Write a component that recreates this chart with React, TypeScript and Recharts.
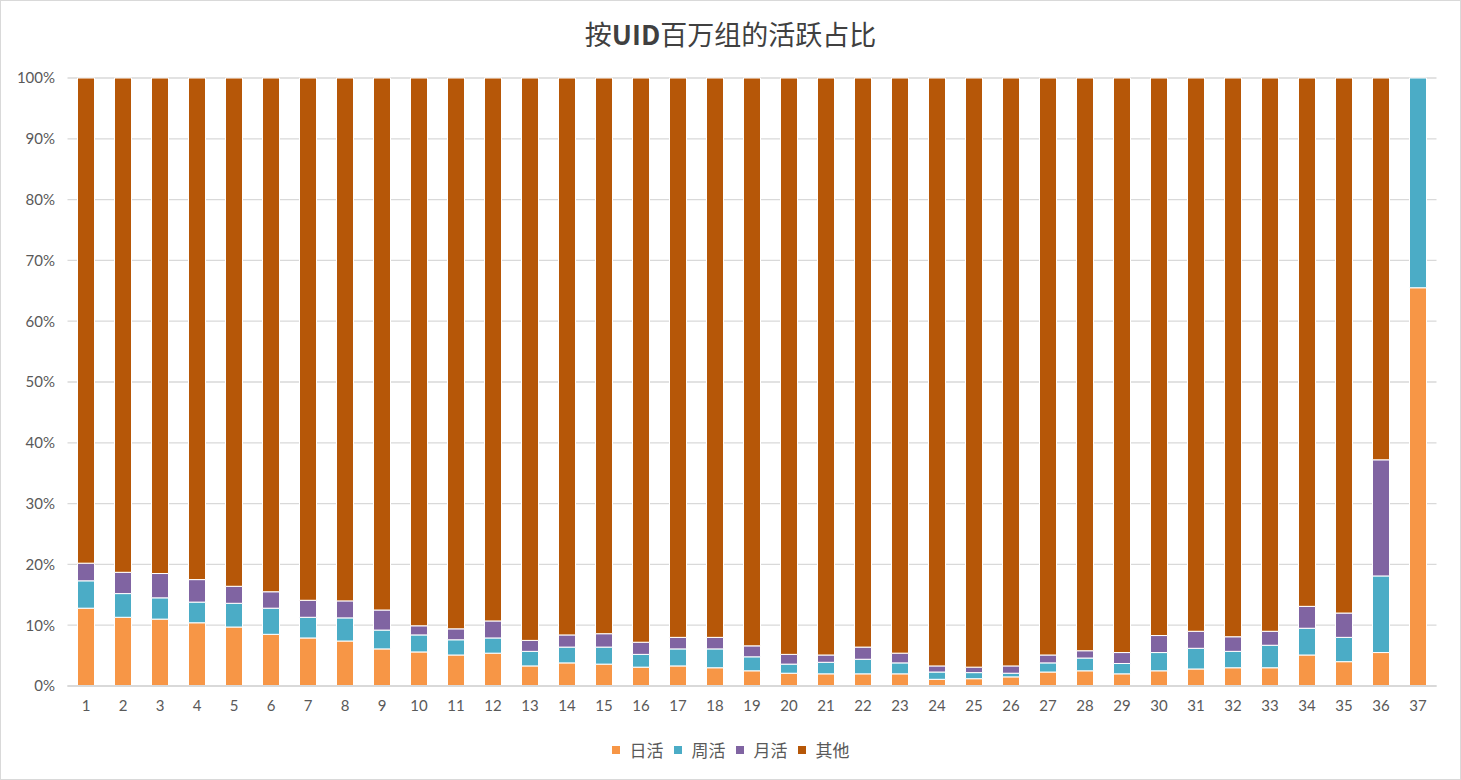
import React from "react";
import { BarChart, Bar, XAxis, YAxis, CartesianGrid } from "recharts";

const groups = [
    "1", "2", "3", "4", "5", "6", "7", "8", "9", "10", "11", "12", "13",
    "14", "15", "16", "17", "18", "19", "20", "21", "22", "23", "24", "25",
    "26", "27", "28", "29", "30", "31", "32", "33", "34", "35", "36", "37",
];

// 日活
const daily = [
    12.8, 11.3, 11.0, 10.4, 9.7, 8.5, 7.9, 7.4, 6.1, 5.6, 5.1, 5.4, 3.3,
    3.8, 3.6, 3.1, 3.3, 3.0, 2.5, 2.1, 2.0, 2.0, 2.0, 1.1, 1.2, 1.5, 2.3,
    2.5, 2.0, 2.5, 2.8, 3.0, 3.0, 5.1, 4.0, 5.5, 65.5,
];
// 周活
const weekly = [
    4.5, 3.9, 3.5, 3.4, 3.9, 4.3, 3.4, 3.8, 3.1, 2.8, 2.5, 2.5, 2.4,
    2.6, 2.8, 2.1, 2.8, 3.1, 2.3, 1.5, 1.9, 2.4, 1.8, 1.2, 1.0, 0.6, 1.5,
    2.1, 1.7, 3.0, 3.4, 2.7, 3.7, 4.4, 4.0, 12.6, 34.5,
];
// 月活
const monthly = [
    2.9, 3.5, 4.0, 3.7, 2.8, 2.7, 2.8, 2.8, 3.3, 1.5, 1.8, 2.8, 1.8,
    2.0, 2.2, 2.0, 1.9, 1.9, 1.8, 1.6, 1.2, 2.0, 1.6, 1.0, 0.9, 1.2, 1.3,
    1.2, 1.8, 2.8, 2.8, 2.4, 2.3, 3.6, 4.0, 19.1, 0,
];
// 其他
const other = [
    79.8, 81.3, 81.5, 82.5, 83.6, 84.5, 85.9, 86.0, 87.5, 90.1, 90.6, 89.3, 92.5,
    91.6, 91.4, 92.8, 92.0, 92.0, 93.4, 94.8, 94.9, 93.6, 94.6, 96.7, 96.9, 96.7, 94.9,
    94.2, 94.5, 91.7, 91.0, 91.9, 91.0, 86.9, 88.0, 62.8, 0,
];

const yTicks = [0, 10, 20, 30, 40, 50, 60, 70, 80, 90, 100];

const SERIES = [
    { key: "daily", name: "日活", color: "#F79646" },
    { key: "weekly", name: "周活", color: "#4BACC6" },
    { key: "monthly", name: "月活", color: "#8064A2" },
    { key: "other", name: "其他", color: "#B65708" },
];

const data = groups.map((g, i) => ({
    group: g,
    daily: daily[i],
    weekly: weekly[i],
    monthly: monthly[i],
    other: other[i],
}));

const FONT = "Lato, 'Noto Sans CJK SC', sans-serif";

export default function App() {
    return (
        <div
            style={{
                position: "absolute",
                left: 0,
                top: 0,
                width: 1461,
                height: 780,
                boxSizing: "border-box",
                border: "1px solid #D9D9D9",
                background: "#fff",
                fontFamily: FONT,
            }}
        >
            <div
                style={{
                    position: "absolute",
                    top: 14,
                    left: 0,
                    width: "100%",
                    textAlign: "center",
                    fontSize: 27,
                    lineHeight: "38px",
                    color: "#404040",
                    fontFamily: "'Noto Sans CJK SC', sans-serif",
                }}
            >
                按<b>UID</b>百万组的活跃占比
            </div>
            <div style={{ position: "absolute", left: -1, top: -1 }}>
                <BarChart
                    width={1461}
                    height={780}
                    data={data}
                    barSize={17}
                    margin={{ top: 78, right: 24.5, left: 0, bottom: 54 }}
                >
                    <CartesianGrid vertical={false} stroke="#D9D9D9" strokeWidth={1.3} />
                    <XAxis
                        dataKey="group"
                        height={40}
                        tickLine={false}
                        axisLine={{ stroke: "#D9D9D9", strokeWidth: 2 }}
                        tickMargin={8}
                        tick={{ fontSize: 15, fill: "#595959", fontFamily: FONT }}
                        interval={0}
                    />
                    <YAxis
                        width={67.5}
                        domain={[0, 100]}
                        ticks={yTicks}
                        tickFormatter={(v) => `${v}%`}
                        tickLine={false}
                        axisLine={false}
                        tickMargin={6.5}
                        tick={{ fontSize: 15, fill: "#595959", fontFamily: FONT }}
                        interval={0}
                    />
                    {SERIES.map((s) => (
                        <Bar
                            key={s.key}
                            dataKey={s.key}
                            name={s.name}
                            stackId="a"
                            fill={s.color}
                            stroke="#fff"
                            strokeWidth={1}
                            isAnimationActive={false}
                        />
                    ))}
                </BarChart>
            </div>
            <div
                style={{
                    position: "absolute",
                    top: 736,
                    left: 0,
                    width: "100%",
                    display: "flex",
                    justifyContent: "center",
                    alignItems: "center",
                    fontSize: 17,
                    color: "#595959",
                    fontFamily: "'Noto Sans CJK SC', sans-serif",
                    lineHeight: "26px",
                }}
            >
                {SERIES.map((s) => (
                    <span
                        key={s.key}
                        style={{ display: "inline-flex", alignItems: "center", margin: "0 5px" }}
                    >
                        <span
                            style={{
                                display: "inline-block",
                                width: 8,
                                height: 8,
                                background: s.color,
                                marginRight: 10,
                            }}
                        />
                        {s.name}
                    </span>
                ))}
            </div>
        </div>
    );
}
